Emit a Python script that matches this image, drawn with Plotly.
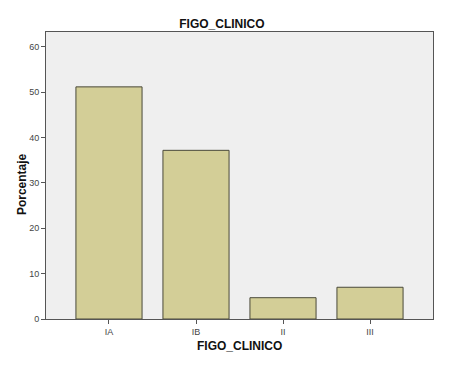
import plotly.graph_objects as go

categories = ["IA", "IB", "II", "III"]
percentages = [51.2, 37.2, 4.7, 7.0]

fig = go.Figure()
fig.add_trace(go.Bar(
    x=categories, y=percentages,
    marker=dict(color="#d3ce97", line=dict(color="#4a4a3a", width=1)),
    width=0.76,
))

fig.update_layout(
    width=451, height=366,
    margin=dict(l=46, r=18, t=32, b=47),
    paper_bgcolor="white",
    plot_bgcolor="#efefef",
    showlegend=False,
    font=dict(family="Liberation Sans, Arial, sans-serif", color="#333"),
    title=dict(text="<b>FIGO_CLINICO</b>", x=0.492, xanchor="center",
               y=0.935, yanchor="middle", font=dict(size=12, color="#111")),
    annotations=[
        dict(text="<b>FIGO_CLINICO</b>", xref="paper", yref="paper",
             x=0.5, y=-0.093, xanchor="center", yanchor="middle",
             showarrow=False, font=dict(size=12, color="#111")),
        dict(text="<b>Porcentaje</b>", xref="paper", yref="paper",
             x=-0.062, y=0.47, xanchor="center", yanchor="middle",
             textangle=-90, showarrow=False, font=dict(size=12, color="#111")),
    ],
)
fig.update_xaxes(
    range=[-0.724, 3.724],
    automargin=False,
    showline=True, linecolor="#555", linewidth=1, mirror=True,
    ticks="outside", ticklen=4, tickcolor="#555",
    tickfont=dict(size=9, color="#444"),
    showgrid=False,
)
fig.update_yaxes(
    range=[0, 63.3],
    automargin=False,
    tickvals=[0, 10, 20, 30, 40, 50, 60],
    showline=True, linecolor="#555", linewidth=1, mirror=True,
    ticks="outside", ticklen=4, tickcolor="#555",
    tickfont=dict(size=9, color="#444"),
    showgrid=False, zeroline=False,
)

fig.write_html("out.html", post_script="document.body.style.margin='0';",
               config={"displayModeBar": False})
